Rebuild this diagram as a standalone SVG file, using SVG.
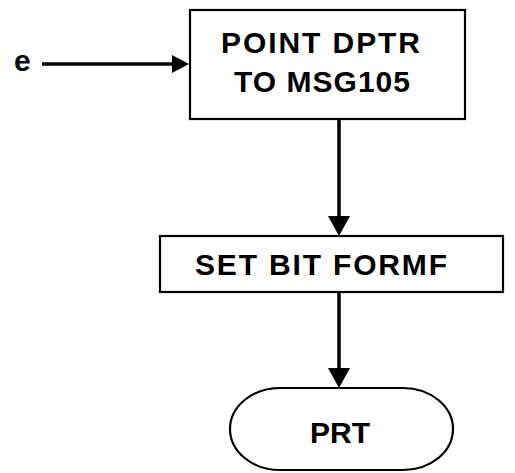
<svg xmlns="http://www.w3.org/2000/svg" width="515" height="473" viewBox="0 0 515 473">
<style>
.box{fill:#fff;stroke:#000;stroke-width:2.2}
.lbl{font-family:"Liberation Sans",Arial,sans-serif;font-weight:bold;font-size:30px;fill:#000}
.wire{stroke:#000;stroke-width:3.5;fill:none}
.head{fill:#000}
</style>
<rect width="515" height="473" fill="#fff"/>
<g id="connectors">
<line class="wire" x1="42" y1="64" x2="176" y2="64"/>
<polygon class="head" points="189,64 172,55 172,73"/>
<line class="wire" x1="339" y1="119" x2="339" y2="218"/>
<polygon class="head" points="339,236 328,216 350,216"/>
<line class="wire" x1="339" y1="292" x2="339" y2="372"/>
<polygon class="head" points="339,388 328,368 350,368"/>
</g>
<g id="entry">
<text class="lbl" x="14" y="71">e</text>
</g>
<g id="point-dptr">
<rect class="box" x="190" y="10" width="275" height="109"/>
<text class="lbl" x="221" y="53" textLength="199" lengthAdjust="spacing">POINT DPTR</text>
<text class="lbl" x="234" y="92" textLength="176" lengthAdjust="spacing">TO MSG105</text>
</g>
<g id="set-bit">
<rect class="box" x="160" y="236" width="343" height="56"/>
<text class="lbl" x="195" y="275" textLength="252" lengthAdjust="spacing">SET BIT FORMF</text>
</g>
<g id="prt">
<rect class="box" x="230" y="388" width="223" height="82" rx="50" ry="41"/>
<text class="lbl" x="310" y="443" textLength="60" lengthAdjust="spacing">PRT</text>
</g>
</svg>
